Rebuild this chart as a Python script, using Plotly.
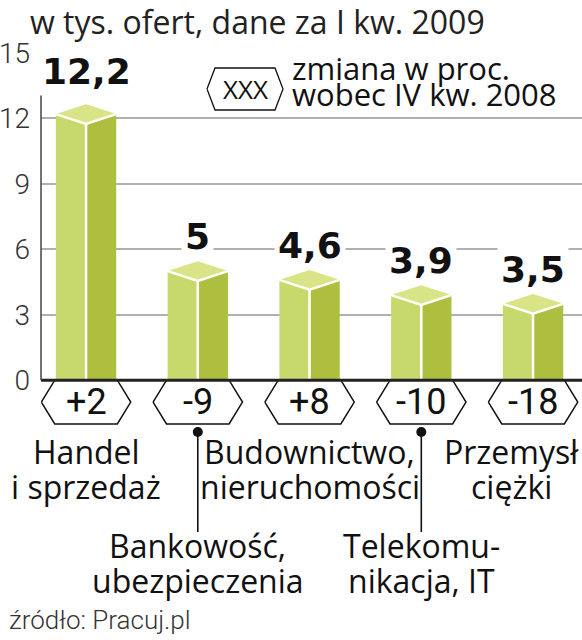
import plotly.graph_objects as go

# ---------------- data ----------------
cat_line1 = ["Handel", "Bankowość,", "Budownictwo,", "Telekomu-", "Przemysł"]
cat_line2 = ["i sprzedaż", "ubezpieczenia", "nieruchomości", "nikacja, IT", "ciężki"]
values = [12.2, 5.0, 4.6, 3.9, 3.5]
value_labels = ["12,2", "5", "4,6", "3,9", "3,5"]
changes = ["+2", "-9", "+8", "-10", "-18"]
y_ticks = [0, 3, 6, 9, 12, 15]
title_text = "w tys. ofert, dane za I kw. 2009"
legend_line1 = "zmiana w proc."
legend_line2 = "wobec IV kw. 2008"
source_text = "źródło: Pracuj.pl"

# ---------------- geometry helpers ----------------
W, H = 582, 640
ML, MR, MT, MB = 41, 0, 53, 9
Y_RANGE = [-11.5, 15]
X_RANGE = [-0.403, 4.438]
plot_h = H - MT - MB
plot_w = W - ML - MR
py_per_unit = plot_h / (Y_RANGE[1] - Y_RANGE[0])
px_per_unit = plot_w / (X_RANGE[1] - X_RANGE[0])
zero_px = MT + Y_RANGE[1] * py_per_unit


def ypx(p):
    return (zero_px - p) / py_per_unit


def xpx(p):
    return X_RANGE[0] + (p - ML) / px_per_unit


def xpap(p):
    return (p - ML) / plot_w


def ypap(p):
    return (H - MB - p) / plot_h


FONT = "Open Sans"
C_LEFT = "#c7d96d"
C_RIGHT = "#aebf40"
C_TOP = "#d8e486"

HW = 0.27   # half bar width (x units)
D = 0.45    # iso offset (y units)

fig = go.Figure()

xs_l, ys_l, xs_r, ys_r, xs_t, ys_t, xs_w, ys_w = [], [], [], [], [], [], [], []
for i, v in enumerate(values):
    c = i
    xs_l += [c - HW, c - HW, c, c, c - HW, None]
    ys_l += [0, v, v - D, 0, 0, None]
    xs_r += [c, c, c + HW, c + HW, c, None]
    ys_r += [0, v - D, v, 0, 0, None]
    xs_t += [c - HW, c, c + HW, c, c - HW, None]
    ys_t += [v, v + D, v, v - D, v, None]
    xs_w += [c - HW, c, c + HW, None, c, c, None]
    ys_w += [v, v - D, v, None, v - D, 0, None]

for xs, ys, col in [(xs_l, ys_l, C_LEFT), (xs_r, ys_r, C_RIGHT), (xs_t, ys_t, C_TOP)]:
    fig.add_trace(go.Scatter(x=xs, y=ys, mode="lines", fill="toself", fillcolor=col,
                             line=dict(width=0, color=col), hoverinfo="skip", showlegend=False))
fig.add_trace(go.Scatter(x=xs_w, y=ys_w, mode="lines", line=dict(width=2.5, color="white"),
                         hoverinfo="skip", showlegend=False))

# hexagon change labels under the axis
HX_OUT, HX_IN = 0.40, 0.28
hy_top, hy_bot = 0.0, ypx(424)
hy_mid = (hy_top + hy_bot) / 2
hx, hy = [], []
for i in range(len(values)):
    c = i
    hx += [c - HX_OUT, c - HX_IN, c + HX_IN, c + HX_OUT, c + HX_IN, c - HX_IN, c - HX_OUT, None]
    hy += [hy_mid, hy_top, hy_top, hy_mid, hy_bot, hy_bot, hy_mid, None]
fig.add_trace(go.Scatter(x=hx, y=hy, mode="lines", fill="toself", fillcolor="white",
                         line=dict(width=1.5, color="#111"), hoverinfo="skip", showlegend=False))

# legend hexagon
lx0, lx1 = xpx(207), xpx(283)
lxi0, lxi1 = xpx(215), xpx(275)
ly0, ly1 = ypx(68), ypx(110)
lym = (ly0 + ly1) / 2
fig.add_trace(go.Scatter(x=[lx0, lxi0, lxi1, lx1, lxi1, lxi0, lx0],
                         y=[lym, ly0, ly0, lym, ly1, ly1, lym], mode="lines",
                         line=dict(width=1.3, color="#111"), hoverinfo="skip", showlegend=False))

# pins for lower-row category labels
pin_idx = [1, 3]
pin_top, pin_bot = ypx(432), ypx(532)
px_, py_ = [], []
for i in pin_idx:
    px_ += [i, i, None]
    py_ += [pin_top, pin_bot, None]
fig.add_trace(go.Scatter(x=px_, y=py_, mode="lines", line=dict(width=1.6, color="#111"),
                         hoverinfo="skip", showlegend=False))
fig.add_trace(go.Scatter(x=pin_idx, y=[pin_top] * len(pin_idx), mode="markers",
                         marker=dict(size=10, color="#111"), hoverinfo="skip", showlegend=False))

ann = []
# value labels
for i, (v, t) in enumerate(zip(values, value_labels)):
    ann.append(dict(x=i, y=v + D, xref="x", yref="y", text=t, showarrow=False,
                    yanchor="bottom", xanchor="center", bgcolor="white", borderpad=3,
                    yshift=8 if v > 10 else 0,
                    font=dict(family="DejaVu Sans", size=36, color="#111", weight="bold")))
# change labels
for i, t in enumerate(changes):
    ann.append(dict(x=i, y=hy_mid, xref="x", yref="y", text=t, showarrow=False,
                    yanchor="middle", xanchor="center",
                    font=dict(family="Roboto", size=36, color="#111")))

CS = 32
for i in range(len(values)):
    lower = i in pin_idx
    b1, b2 = (556, 591) if lower else (462, 497)
    xs = -22 if i == len(values) - 1 else 0
    ann.append(dict(x=i, y=ypx(b1 - 0.33 * CS), xref="x", yref="y", text=cat_line1[i],
                    showarrow=False, xanchor="center", yanchor="middle", xshift=xs,
                    font=dict(family=FONT, size=CS, color="#111")))
    ann.append(dict(x=i, y=ypx(b2 - 0.33 * CS), xref="x", yref="y", text=cat_line2[i],
                    showarrow=False, xanchor="center", yanchor="middle", xshift=xs,
                    font=dict(family=FONT, size=CS, color="#111")))

# title
ann.append(dict(x=xpap(28), y=ypap(22), xref="paper", yref="paper", text=title_text,
                showarrow=False, xanchor="left", yanchor="middle",
                font=dict(family=FONT, size=32, color="#222")))
# legend
ann.append(dict(x=(lx0 + lx1) / 2, y=lym, xref="x", yref="y", text="XXX", showarrow=False,
                xanchor="center", yanchor="middle", font=dict(family=FONT, size=26, color="#111")))
ann.append(dict(x=xpx(290), y=ypx(78 - 0.33 * 31), xref="x", yref="y", text=legend_line1,
                showarrow=False, xanchor="left", yanchor="middle",
                font=dict(family=FONT, size=31, color="#111")))
ann.append(dict(x=xpx(290), y=ypx(104 - 0.33 * 31), xref="x", yref="y", text=legend_line2,
                showarrow=False, xanchor="left", yanchor="middle",
                font=dict(family=FONT, size=31, color="#111")))
# source
ann.append(dict(x=xpap(7), y=ypap(629 - 0.33 * 26), xref="paper", yref="paper", text=source_text,
                showarrow=False, xanchor="left", yanchor="middle",
                font=dict(family="Roboto", size=26, color="#333", weight=300)))

shapes = [
    dict(type="line", xref="paper", yref="y", x0=0, x1=1, y0=0, y1=0,
         line=dict(color="#222", width=3), layer="above"),
    dict(type="line", xref="paper", yref="y", x0=0, x1=0, y0=0, y1=15,
         line=dict(color="#444", width=1.5), layer="above"),
]

fig.update_layout(
    width=W, height=H,
    margin=dict(l=ML, r=MR, t=MT, b=MB, pad=0),
    paper_bgcolor="white", plot_bgcolor="white",
    showlegend=False,
    xaxis=dict(range=X_RANGE, visible=False, fixedrange=True),
    yaxis=dict(range=Y_RANGE, tickvals=y_ticks, ticktext=[str(t) for t in y_ticks],
               showgrid=True, gridcolor="#b0b0b0", gridwidth=1.5, zeroline=False,
               showline=False, ticks="", ticklabelstandoff=10,
               tickfont=dict(family="Roboto", size=28, color="#333", weight=300),
               fixedrange=True),
    annotations=ann, shapes=shapes,
)

fig.write_html("out.html", config={"displayModeBar": False},
               post_script="document.body.style.margin='0';")
